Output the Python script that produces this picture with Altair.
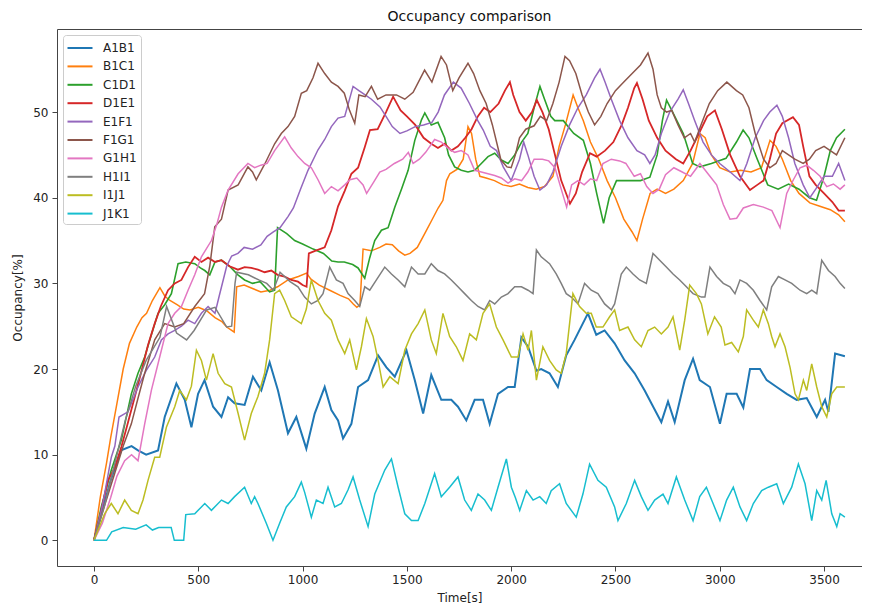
import altair as alt
import pandas as pd

# ---- data (time [s], occupancy [%]) ----
A1B1 = [(0,0),(40,3.5),(80,7),(130,10.5),(180,11),(211,10.5),(250,10),(307,10.5),(339,14.4),(395,18.3),(435,16.4),(467,13.2),(499,17.1),(530,18.7),(571,15.6),(611,14.4),(643,16.7),(674,16.0),(722,15.8),(762,19.1),(802,17.5),(842,20.8),(882,17.5),(930,12.5),(970,14.4),(1018,10.7),(1058,14.8),(1106,17.9),(1138,15.2),(1170,14.0),(1194,11.9),(1234,13.6),(1266,17.9),(1314,18.7),(1362,21.6),(1402,20.2),(1442,19.1),(1498,22.2),(1538,18.7),(1578,14.8),(1617,19.3),(1665,16.4),(1713,16.4),(1745,15.6),(1785,14.0),(1825,16.4),(1865,16.4),(1897,13.6),(1937,17.1),(1985,17.9),(2017,17.9),(2049,23.7),(2081,22.6),(2121,19.8),(2144,20.0),(2184,19.5),(2224,17.9),(2264,21.6),(2304,23.4),(2368,26.5),(2408,24.0),(2448,24.5),(2496,23.0),(2544,21.0),(2592,19.5),(2640,17.5),(2672,16.0),(2720,13.8),(2752,16.2),(2784,13.8),(2832,18.7),(2872,21.2),(2904,18.7),(2953,17.9),(3001,13.6),(3033,17.1),(3081,17.1),(3113,15.5),(3145,20.0),(3193,20.0),(3225,18.7),(3273,17.9),(3321,17.1),(3369,16.4),(3417,16.6),(3465,14.4),(3505,16.4),(3521,15.0),(3553,21.8),(3600,21.5)]

B1C1 = [(0,0),(30,5),(60,9),(80,12),(110,16),(140,20),(170,23),(205,24.9),(230,26),(252,26.5),(280,28),(316,29.5),(340,28.5),(364,28),(400,27.5),(430,27),(460,26.9),(500,27.2),(540,26.8),(580,26),(615,25.5),(636,24.9),(660,24.5),(672,24.3),(684,29.6),(720,29.8),(760,29.4),(800,29),(844,29.2),(880,29.6),(930,30.4),(980,30.8),(1019,31.2),(1040,30.5),(1080,29.8),(1130,29.2),(1180,28.6),(1220,28.2),(1243,27.6),(1260,27.2),(1275,27.5),(1290,34),(1330,33.8),(1370,34.2),(1400,34.6),(1430,34.5),(1460,33.8),(1490,33.3),(1515,33.5),(1550,34.2),(1590,36),(1620,37.4),(1650,38.8),(1673,39.7),(1690,42),(1706,42.8),(1740,43.3),(1770,44.5),(1793,48.3),(1810,47.5),(1830,44.5),(1850,42.5),(1880,42.3),(1920,42),(1960,41.5),(2000,41.3),(2040,41.6),(2080,41.2),(2120,41),(2160,41.3),(2200,42.5),(2230,46),(2260,48.5),(2297,52),(2320,50.5),(2346,49),(2380,46.5),(2420,44.5),(2460,42),(2500,40),(2540,37.5),(2580,36),(2603,35),(2630,37.5),(2666,40.5),(2700,41),(2740,40.5),(2780,41),(2825,42),(2870,44),(2905,47.5),(2930,47),(2960,45),(3000,43.5),(3050,43),(3100,43.2),(3150,43),(3200,43.5),(3241,46.7),(3270,46),(3300,44.5),(3340,42),(3380,40.5),(3432,39.4),(3480,39),(3530,38.6),(3570,38),(3600,37.2)]

C1D1 = [(0,0),(35,3.9),(83,8.2),(131,11.7),(179,17.1),(211,19.5),(243,21.4),(275,24),(307,26.5),(339,27.5),(371,28.8),(403,32.3),(440,32.5),(483,32.3),(510,31.8),(531,31.5),(555,31),(580,32.5),(611,32.7),(650,32),(690,31),(722,30.4),(760,30),(796,30.2),(842,29),(866,29.2),(880,36.5),(924,35.8),(962,35),(1000,34.6),(1051,34),(1100,33.5),(1140,32.6),(1170,32.5),(1200,32.5),(1240,32.2),(1266,31.8),(1298,30.6),(1322,33),(1346,35),(1378,36.2),(1410,36.5),(1442,38.9),(1474,41),(1506,43.2),(1538,46.7),(1570,49.1),(1586,49.9),(1617,48.5),(1649,48.8),(1681,47),(1700,45),(1729,43.6),(1761,43.2),(1793,43),(1825,43.2),(1857,44),(1889,44.8),(1921,45.2),(1953,44.4),(1985,44),(2017,45),(2050,46.5),(2080,47.5),(2110,50.5),(2138,53),(2160,51.5),(2190,49.5),(2209,49),(2250,49),(2300,47.5),(2346,46.7),(2380,44),(2410,40.5),(2443,37),(2470,40),(2505,42),(2560,42),(2620,42),(2665,42.4),(2700,45),(2725,49),(2745,51.4),(2770,50.2),(2825,47.5),(2870,44),(2905,43.6),(2960,44),(3030,44.6),(3080,46.5),(3112,47.9),(3140,47),(3180,44.5),(3230,41.5),(3280,41),(3330,41.6),(3380,41),(3430,40),(3464,39.7),(3500,42.5),(3530,45.5),(3560,47),(3600,48)]

D1E1 = [(0,0),(30,3),(67,7),(100,8.5),(131,10.9),(160,13.5),(195,16.7),(225,19.5),(259,22.8),(291,25.3),(320,27.3),(355,29.2),(387,30),(419,30.4),(451,31.9),(483,33.1),(515,32.5),(547,33),(580,32.5),(611,32.7),(650,32),(690,31.6),(722,31.9),(754,31.8),(786,31.6),(818,31.3),(850,31.5),(880,31),(914,30.8),(946,30.4),(978,30.2),(1000,29.8),(1019,29.6),(1030,33.5),(1060,33.8),(1106,34.2),(1138,36.2),(1170,39),(1202,40.8),(1234,42.8),(1266,43.5),(1298,45.9),(1323,47.9),(1360,48),(1400,50),(1434,51.8),(1470,50.2),(1500,49.5),(1540,48.5),(1580,47),(1617,46.3),(1649,45.8),(1681,46.3),(1713,45.5),(1745,46),(1780,47),(1810,48),(1840,49.5),(1870,50.5),(1900,50),(1940,51),(1970,52.5),(1994,53.5),(2010,52),(2040,50),(2070,49),(2100,50),(2123,51.4),(2150,50),(2180,48),(2210,45),(2240,42),(2282,39.3),(2310,40.5),(2340,43),(2378,45.2),(2410,44.8),(2450,45.5),(2490,46.5),(2530,48.5),(2560,50.5),(2590,52.8),(2603,53.4),(2630,51.5),(2660,49),(2700,47),(2740,45.5),(2790,44.5),(2825,44),(2860,45.5),(2900,47.5),(2940,49.5),(2977,50.2),(3010,48),(3050,45),(3097,42.5),(3145,40.9),(3180,41.5),(3210,42),(3240,44.5),(3270,47.5),(3300,48.7),(3351,49.4),(3380,48.5),(3400,46),(3430,42.5),(3460,41.5),(3500,40.5),(3540,39.5),(3570,38.5),(3600,38.5)]

E1F1 = [(0,0),(40,4),(70,8),(83,9.7),(100,11),(120,14.4),(163,15),(211,17.9),(250,19.8),(291,21.4),(323,23.4),(355,24.1),(387,24.5),(419,25),(451,25.7),(483,25.3),(515,26.5),(547,27.3),(580,26.5),(600,28.5),(636,32),(660,33.2),(690,33.5),(720,34.2),(760,34),(800,34.5),(830,35.5),(860,36),(892,36.5),(930,37.8),(956,38.8),(990,41),(1026,43.2),(1074,45.6),(1106,46.8),(1138,48.3),(1170,49.3),(1202,49.5),(1242,53),(1270,52.5),(1300,52),(1330,51.5),(1371,50.6),(1400,49.5),(1430,48.3),(1467,47.5),(1500,47.8),(1540,48.3),(1580,48.5),(1620,48.8),(1650,50),(1680,52),(1723,53.5),(1760,52.8),(1800,51),(1840,49),(1866,47.9),(1900,46),(1930,45.5),(1962,43.6),(2000,42),(2040,44.5),(2060,46.5),(2080,45),(2110,42.5),(2138,40.9),(2170,41.5),(2200,43),(2240,46),(2280,48.5),(2320,50.5),(2360,52),(2400,54),(2426,55),(2450,53.5),(2480,51.5),(2520,49),(2560,47),(2603,45.5),(2640,45),(2665,44),(2690,45),(2720,47.5),(2760,50),(2800,51.5),(2825,52.6),(2850,51),(2880,49),(2920,46.5),(2960,45),(3000,44),(3050,43),(3097,42),(3130,44),(3170,47),(3210,49),(3240,50),(3274,50.8),(3300,49.5),(3330,47),(3360,44),(3400,41.5),(3432,40),(3460,41),(3500,42.5),(3540,42.5),(3570,44),(3600,42)]

F1G1 = [(0,0),(50,4),(99,7.8),(140,11),(179,13.6),(210,16.5),(243,19.5),(291,23.4),(339,25.3),(387,24.9),(430,25.3),(483,27.3),(530,28.8),(555,32),(579,36.6),(611,37.5),(643,40.9),(691,41.5),(738,43.6),(760,43),(778,42.1),(820,44),(866,46.3),(898,47.5),(930,48.3),(962,49.5),(994,52.2),(1020,52.5),(1050,54),(1074,55.7),(1106,54.5),(1138,53.5),(1170,53),(1200,52.2),(1225,50.2),(1250,48.7),(1270,52),(1300,51.8),(1330,53),(1360,51.5),(1400,52),(1450,52),(1490,51.5),(1530,52.3),(1585,54.9),(1620,53.5),(1664,56.5),(1690,55.5),(1720,52.5),(1750,54),(1793,55.7),(1820,54.5),(1850,52.5),(1880,51),(1910,48.5),(1951,44.4),(1980,43.6),(2000,43.5),(2020,45),(2040,47),(2070,48),(2110,48.4),(2140,49.5),(2170,49),(2200,51),(2230,53.5),(2258,56.5),(2280,56),(2310,54.5),(2340,52),(2370,50),(2400,48.5),(2430,49.5),(2460,51),(2500,52.5),(2540,53.5),(2580,54.5),(2620,55.5),(2656,56.9),(2680,55),(2700,52),(2720,50.5),(2745,50),(2770,50.2),(2800,48.5),(2830,47),(2860,47.5),(2880,46.5),(2910,48.5),(2950,51),(2990,52.5),(3034,53.5),(3080,52.5),(3110,52),(3140,50.5),(3170,47.5),(3210,44.5),(3240,43.5),(3270,44),(3300,45.5),(3330,45),(3360,44.5),(3400,44),(3430,44.5),(3460,45.5),(3500,46),(3530,45.5),(3560,45),(3600,47)]

G1H1 = [(0,0),(40,2),(80,5),(110,7.5),(147,9.3),(180,10),(211,9.3),(243,13.6),(275,17.5),(315,21.4),(355,25.3),(387,26.5),(419,27.3),(451,29.2),(483,31),(515,33.1),(563,35),(590,37),(611,38.9),(643,40.9),(691,42.8),(738,44),(770,43.5),(800,43.8),(830,44),(866,45.5),(914,47.1),(946,45.8),(978,44.8),(1010,44),(1042,43.5),(1074,42.1),(1106,40.5),(1138,41.3),(1170,40.8),(1202,41.5),(1227,42.1),(1260,42.3),(1290,41.5),(1307,40.5),(1340,41.8),(1370,43),(1400,43.3),(1440,44),(1480,44.5),(1507,45.3),(1530,44),(1560,44.5),(1590,45.3),(1633,46.8),(1665,46.5),(1697,45.8),(1729,45.3),(1761,45.5),(1793,45),(1825,43.2),(1857,43),(1889,42.8),(1921,42.6),(1953,42.3),(1985,41.7),(2017,42.2),(2050,42),(2080,43),(2110,44.5),(2150,44.5),(2180,44.3),(2210,43.5),(2240,41),(2266,38.9),(2290,41.5),(2320,42),(2350,41.5),(2380,42.2),(2410,42),(2440,44),(2480,44.5),(2520,44.3),(2550,44),(2590,42.5),(2620,42.8),(2650,41.3),(2680,40.5),(2710,41),(2740,42.7),(2780,43.5),(2820,43),(2860,42.5),(2905,44),(2953,42.5),(2985,41.5),(3017,39.2),(3049,37.5),(3081,37.6),(3113,38.8),(3161,39.2),(3209,38.9),(3250,38.5),(3289,36.5),(3321,40.5),(3353,42.1),(3385,43.5),(3417,43.8),(3449,43.2),(3481,42.5),(3513,41.3),(3545,41.6),(3577,41),(3600,41.5)]

H1I1 = [(0,0),(50,4),(100,9),(150,14),(200,18),(250,21),(316,23.7),(348,27.3),(396,24.2),(444,23.4),(480,24.5),(540,26.9),(580,27.2),(636,24.9),(660,25),(676,30),(684,31.3),(740,31.0),(790,30.4),(828,30),(860,29.2),(892,31.3),(940,30.2),(978,29.6),(1010,28.4),(1042,27.6),(1074,28),(1098,28.8),(1130,31.9),(1162,30.4),(1194,30),(1218,28.8),(1250,28),(1274,27.3),(1298,29.6),(1322,29.2),(1354,30.4),(1394,31.9),(1426,31.1),(1458,30.4),(1490,29.6),(1522,31.9),(1554,31.1),(1586,31.1),(1617,32.3),(1649,31.5),(1681,31.1),(1713,30.4),(1745,29.6),(1777,28.8),(1809,28),(1841,27.3),(1873,26.9),(1897,28),(1921,27.6),(1953,28.4),(1985,28.8),(2017,29.6),(2049,29.6),(2081,29.2),(2105,28.8),(2121,33.9),(2144,33.1),(2184,32.3),(2216,31.1),(2240,30),(2264,28.8),(2288,28.4),(2320,27.6),(2352,30),(2384,29.2),(2416,28.8),(2448,27.6),(2480,26.9),(2496,27.6),(2528,31.1),(2552,31.9),(2584,31.1),(2616,30.4),(2648,30),(2680,33.5),(2712,32.7),(2744,31.9),(2776,31.1),(2808,30.4),(2840,29.6),(2872,28.8),(2912,28.4),(2929,28.4),(2953,31.9),(2985,30.8),(3017,30),(3049,29.6),(3073,28.8),(3097,30.4),(3129,30),(3161,29.2),(3193,28),(3225,26.9),(3249,29.6),(3281,30.8),(3313,30.4),(3345,30),(3385,29.2),(3417,28.8),(3441,29.2),(3465,28.8),(3489,32.7),(3521,31.5),(3553,30.8),(3577,30),(3600,29.4)]

I1J1 = [(0,0),(51,3.1),(83,4.3),(115,3.1),(147,4.7),(179,3.5),(211,3.1),(235,4.7),(259,7.0),(291,9.7),(315,9.7),(347,13.2),(387,15.6),(411,17.5),(443,16.4),(467,18.0),(491,22.2),(515,21.0),(539,18.7),(571,21.8),(595,19.5),(627,18.3),(659,17.9),(691,14.8),(722,11.7),(754,14.8),(786,16.8),(818,19.5),(842,23.4),(866,28.8),(890,29.2),(914,28),(946,26.1),(994,25.3),(1018,27.0),(1042,30.4),(1074,28),(1106,26.5),(1138,25.7),(1170,23.4),(1202,21.8),(1226,23.4),(1258,19.9),(1282,22.6),(1306,25.9),(1338,23.8),(1362,21.0),(1386,17.9),(1418,19.1),(1458,18.3),(1490,22.2),(1522,24.1),(1554,25.3),(1586,26.9),(1617,23.4),(1641,21.8),(1673,26.5),(1705,23.8),(1737,22.6),(1769,21.0),(1801,24.1),(1833,23.4),(1865,26.5),(1897,27.6),(1929,24.9),(1961,23.4),(2001,21.4),(2033,21.4),(2057,24.1),(2081,22.2),(2097,24.5),(2121,18.7),(2152,22.6),(2184,21.0),(2216,19.9),(2240,19.5),(2264,21.8),(2296,28.8),(2328,27.3),(2360,26.5),(2384,26.5),(2408,24.9),(2440,24.9),(2472,26.1),(2496,26.9),(2520,24.5),(2560,24.9),(2592,23.4),(2624,22.6),(2656,24.5),(2688,24.9),(2720,24.1),(2752,24.9),(2776,26.1),(2808,22.2),(2832,25.7),(2856,29.8),(2888,28.8),(2912,27.6),(2943,24.1),(2975,26.1),(3007,24.9),(3025,22.8),(3057,23.1),(3089,22.0),(3113,23.8),(3129,26.9),(3161,25.7),(3185,24.9),(3209,26.9),(3233,25.3),(3249,23.8),(3265,22.6),(3289,24.1),(3313,22.6),(3337,20.2),(3361,17.1),(3377,16.4),(3401,18.7),(3417,17.5),(3441,20.6),(3465,17.9),(3489,15.6),(3513,14.4),(3537,17.1),(3561,17.9),(3600,17.9)]

J1K1 = [(0,0),(60,0),(85,1.0),(140,1.5),(200,1.3),(250,1.8),(280,1.2),(310,1.5),(370,1.5),(385,0),(430,0),(440,3.0),(483,3.1),(515,3.9),(531,4.3),(563,3.5),(611,4.7),(643,4.3),(674,5.1),(722,6.2),(754,4.3),(770,5.1),(786,4.3),(826,2.0),(858,0),(890,2.0),(922,3.9),(962,5.1),(994,6.8),(1010,5.6),(1042,2.7),(1066,4.7),(1098,4.3),(1122,6.2),(1154,3.9),(1186,4.3),(1218,5.9),(1242,7.4),(1274,4.7),(1314,1.6),(1346,5.4),(1394,8.2),(1426,9.5),(1458,6.2),(1490,3.1),(1522,2.3),(1554,2.3),(1586,4.3),(1633,7.8),(1665,5.1),(1705,6.2),(1745,7.4),(1777,4.7),(1809,3.5),(1841,5.4),(1873,4.7),(1905,3.5),(1937,6.2),(1977,9.5),(2001,6.2),(2020,5.0),(2041,3.5),(2073,5.8),(2105,4.7),(2137,5.1),(2168,4.3),(2192,5.8),(2232,6.6),(2264,4.3),(2312,2.7),(2344,5.4),(2376,8.9),(2416,7.0),(2456,6.2),(2496,3.9),(2512,2.3),(2552,4.3),(2592,7.0),(2624,5.1),(2656,3.5),(2688,4.7),(2728,5.4),(2752,4.3),(2792,7.4),(2832,4.7),(2872,2.3),(2904,5.1),(2936,6.2),(2968,4.3),(3001,2.3),(3033,4.7),(3065,6.2),(3097,3.9),(3129,2.3),(3161,4.3),(3201,5.8),(3233,6.2),(3273,6.6),(3305,4.3),(3345,6.2),(3377,8.9),(3409,6.6),(3441,2.3),(3465,5.8),(3489,4.7),(3510,7.0),(3537,3.1),(3561,1.6),(3577,3.1),(3600,2.7)]

series_names = ["A1B1", "B1C1", "C1D1", "D1E1", "E1F1", "F1G1", "G1H1", "H1I1", "I1J1", "J1K1"]
series_data = [A1B1, B1C1, C1D1, D1E1, E1F1, F1G1, G1H1, H1I1, I1J1, J1K1]
series_colors = ["#1f77b4", "#ff7f0e", "#2ca02c", "#d62728", "#9467bd",
                 "#8c564b", "#e377c2", "#7f7f7f", "#bcbd22", "#17becf"]
series_widths = [2.0, 1.5, 1.6, 1.8, 1.5, 1.5, 1.5, 1.5, 1.5, 1.5]
x_ticks = [0, 500, 1000, 1500, 2000, 2500, 3000, 3500]
y_ticks = [0, 10, 20, 30, 40, 50]

rows = []
for name, pts, w in zip(series_names, series_data, series_widths):
    for t, v in pts:
        rows.append({"series": name, "t": t, "v": v, "lw": w})
df = pd.DataFrame(rows)

FONT = "DejaVu Sans"
x_scale = alt.Scale(domain=[-177.4, 3682], nice=False, zero=False)
y_scale = alt.Scale(domain=[-3.0, 59.7], nice=False, zero=False)

lines = alt.Chart(df).mark_line().encode(
    x=alt.X("t:Q", scale=x_scale,
            axis=alt.Axis(orient="bottom", values=x_ticks, format="d", title="Time[s]",
                          grid=False, tickSize=5, labelPadding=3, titlePadding=7)),
    y=alt.Y("v:Q", scale=y_scale,
            axis=alt.Axis(values=y_ticks, format="d", title="Occupancy[%]", grid=False,
                          tickSize=5, labelPadding=4, titlePadding=8)),
    color=alt.Color("series:N", sort=series_names,
                    scale=alt.Scale(domain=series_names, range=series_colors),
                    legend=alt.Legend(title=None, orient="none", legendX=6, legendY=6,
                                      symbolType="M-1.5625,0H1.5625", symbolSize=256,
                                      symbolStrokeWidth=2, labelFontSize=12,
                                      labelFont=FONT, labelColor="#222",
                                      rowPadding=3.4, padding=4, symbolOffset=4,
                                      labelOffset=14,
                                      strokeColor="#cccccc", fillColor="white",
                                      cornerRadius=3)),
    strokeWidth=alt.StrokeWidth("lw:Q", scale=None),
)

top_spine = alt.Chart(df).mark_point(opacity=0).encode(
    x=alt.X("t:Q", scale=x_scale,
            axis=alt.Axis(orient="top", labels=False, ticks=False, title=None, grid=False)),
)

chart = alt.layer(lines, top_spine).resolve_axis(x="independent").properties(
    width=805, height=537,
    autosize=alt.AutoSizeParams(type="none"),
    padding={"left": 49, "top": 21, "right": 0, "bottom": 38},
    title=alt.TitleParams("Occupancy comparison", font=FONT, fontSize=14,
                          fontWeight="normal", color="#111", offset=5, dx=10),
).configure_view(stroke=None).configure_axis(
    labelFont=FONT, titleFont=FONT, labelFontSize=12, titleFontSize=12,
    titleFontWeight="normal", labelColor="#222", titleColor="#222",
    domainColor="#444", tickColor="#444", domainWidth=1, tickWidth=1,
)

chart.save("out.html", embed_options={"renderer": "svg", "actions": False})
